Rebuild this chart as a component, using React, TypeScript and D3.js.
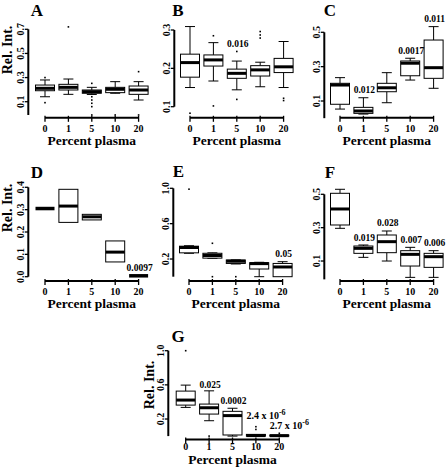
import React from "react";
import * as d3 from "d3";

const categories = ["0", "1", "5", "10", "20"];

// [whiskerLow, q1, median, q3, whiskerHigh] per category
const boxA = [[0.141, 0.191, 0.211, 0.238, 0.28], [0.161, 0.197, 0.219, 0.244, 0.288], [0.16, 0.17, 0.183, 0.197, 0.219], [0.17, 0.175, 0.203, 0.219, 0.266], [0.114, 0.161, 0.197, 0.23, 0.266]];
const outA = [[0.092, 0.3], [0.72], [0.252, 0.141, 0.114, 0.087, 0.059, -0.01], [-0.01], [0.349, -0.01]];
const annA = ["", "", "", "", ""];
const ticksA = [0.1, 0.3, 0.5, 0.7];

const boxB = [[0.15, 0.177, 0.215, 0.237, 0.309], [0.167, 0.206, 0.222, 0.235, 0.267], [0.144, 0.174, 0.187, 0.198, 0.219], [0.152, 0.18, 0.196, 0.207, 0.216], [0.15, 0.189, 0.204, 0.226, 0.27]];
const outB = [[0.083], [0.285, 0.102], [0.244, 0.119], [0.296, 0.287, 0.279], [0.122, 0.116]];
const annB = ["", "", "0.016", "", ""];
const ticksB = [0.1, 0.2, 0.3];

const boxC = [[0.053, 0.081, 0.193, 0.203, 0.236], [0.024, 0.028, 0.042, 0.063, 0.119], [0.09, 0.154, 0.177, 0.203, 0.265], [0.222, 0.247, 0.32, 0.333, 0.349], [0.174, 0.232, 0.294, 0.455, 0.533]];
const outC = [[], [], [], [], []];
const annC = ["", "0.012", "", "0.0017", "0.011"];
const ticksC = [0.1, 0.3, 0.5];

const boxD = [[0.305, 0.305, 0.305, 0.305, 0.305], [0.243, 0.243, 0.316, 0.391, 0.391], [0.254, 0.254, 0.268, 0.279, 0.279], [0.066, 0.066, 0.11, 0.16, 0.16], [0.004, 0.004, 0.004, 0.004, 0.004]];
const outD = [[], [], [], [], []];
const annD = ["", "", "", "", "0.0097"];
const ticksD = [0.0, 0.1, 0.2, 0.3, 0.4];

const boxE = [[0.265, 0.27, 0.33, 0.345, 0.35], [0.208, 0.21, 0.24, 0.265, 0.27], [0.144, 0.15, 0.175, 0.189, 0.19], [0.0, 0.087, 0.148, 0.158, 0.163], [0.0, 0.0, 0.11, 0.15, 0.17]];
const outE = [[0.99], [0.378, 0.0], [0.0], [], []];
const annE = ["", "", "", "", "0.05"];
const ticksE = [0.2, 0.6, 1.0];

const boxF = [[0.296, 0.316, 0.412, 0.506, 0.53], [0.122, 0.146, 0.176, 0.19, 0.196], [0.1, 0.15, 0.216, 0.256, 0.28], [0.002, 0.07, 0.14, 0.162, 0.182], [0.002, 0.062, 0.126, 0.146, 0.162]];
const outF = [[], [], [], [], []];
const annF = ["", "0.019", "0.028", "0.007", "0.006"];
const ticksF = [0.1, 0.3, 0.5];

const boxG = [[0.336, 0.363, 0.422, 0.527, 0.597], [0.18, 0.258, 0.332, 0.375, 0.53], [0.0, 0.013, 0.24, 0.29, 0.326], [0.0, 0.0, 0.006, 0.02, 0.02], [0.0, 0.0, 0.005, 0.012, 0.012]];
const outG = [[1.0], [0.0], [], [0.11, 0.078], [0.033]];
const annG = ["", "0.025", "0.0002", "2.4 x 10^-6", "2.7 x 10^-6"];
const ticksG = [0.2, 0.6, 1.0];

const FONT = "'Liberation Serif', 'Times New Roman', Times, serif";

type Layout = {
  id: string;
  box: number[][];
  out: number[][];
  ann: string[];
  ticks: number[];
  dom: [number, number];
  rng: [number, number];
  axis: [number, number];
  axisX: number;
  x0: number;
  xAxisY: number;
  xLabY: number;
  xTitleY: number;
  letter: [number, number];
  ylab: [number, number] | null;
  annGap: number[];
};

const STEP = 23.4;
const BOXW = 19;
const CAPW = 10;

const gap5 = [4.5, 4.5, 4.5, 4.5, 4.5];

const panels: Layout[] = [
  { id: "A", box: boxA, out: outA, ann: annA, ticks: ticksA, dom: [0, 0.7], rng: [113.77, 29.3], axis: [-0.01, 0.7], axisX: 28.3, x0: 45, xAxisY: 117.8, xLabY: 131.5, xTitleY: 144.5, letter: [37, 15.5], ylab: [11.5, 50], annGap: gap5 },
  { id: "B", box: boxB, out: outB, ann: annB, ticks: ticksB, dom: [0.1, 0.3], rng: [106.7, 30], axis: [0.1, 0.3], axisX: 174.3, x0: 190, xAxisY: 117.8, xLabY: 131.5, xTitleY: 144.5, letter: [178, 15.5], ylab: null, annGap: gap5 },
  { id: "C", box: boxC, out: outC, ann: annC, ticks: ticksC, dom: [0, 0.5], rng: [118.18, 32.3], axis: [0, 0.5], axisX: 324.3, x0: 340, xAxisY: 117.8, xLabY: 131.5, xTitleY: 144.5, letter: [330, 15.5], ylab: null, annGap: gap5 },
  { id: "D", box: boxD, out: outD, ann: annD, ticks: ticksD, dom: [0, 0.4], rng: [276.7, 187.3], axis: [0, 0.4], axisX: 28.3, x0: 45, xAxisY: 281, xLabY: 295, xTitleY: 307.5, letter: [37, 177.5], ylab: [11.5, 208], annGap: gap5 },
  { id: "E", box: boxE, out: outE, ann: annE, ticks: ticksE, dom: [0, 1], rng: [276.7, 188.3], axis: [0, 1], axisX: 173.3, x0: 189, xAxisY: 281, xLabY: 295, xTitleY: 307.5, letter: [178.5, 177], ylab: null, annGap: gap5 },
  { id: "F", box: boxF, out: outF, ann: annF, ticks: ticksF, dom: [0, 0.5], rng: [277.7, 194.3], axis: [-0.01, 0.5], axisX: 324.3, x0: 340, xAxisY: 281, xLabY: 295, xTitleY: 307.5, letter: [330, 177.5], ylab: null, annGap: gap5 },
  { id: "G", box: boxG, out: outG, ann: annG, ticks: ticksG, dom: [0, 1], rng: [436.1, 350.7], axis: [0, 1], axisX: 168.3, x0: 185.7, xAxisY: 439.5, xLabY: 450, xTitleY: 463.5, letter: [178, 342], ylab: [153.5, 385], annGap: [4.5, 2.5, 4, 8, 4] },
];

function Annotation({ text, x, y, long }: { text: string; x: number; y: number; long: boolean }) {
  if (!text) return null;
  if (text.includes("^")) {
    const [base, sup] = text.split("^");
    return (
      <text x={x} y={y} fontSize={10} fontWeight="bold" fontFamily={FONT} textAnchor="start">
        {base}
        <tspan dy={-4} fontSize={8}>{sup}</tspan>
      </text>
    );
  }
  return (
    <text x={x} y={y} fontSize={9.5} fontWeight="bold" fontFamily={FONT} textAnchor={long ? "start" : "middle"}>
      {text}
    </text>
  );
}

function Panel({ p }: { p: Layout }) {
  const y = d3.scaleLinear().domain(p.dom).range(p.rng);
  const x = d3.scalePoint<string>().domain(categories).range([p.x0, p.x0 + 4 * STEP]).padding(0);
  const fmt = d3.format(".1f");
  const xs = categories.map((c) => x(c) as number);
  return (
    <g>
      <text x={p.letter[0]} y={p.letter[1]} fontSize={17} fontWeight="bold" fontFamily={FONT} textAnchor="middle">{p.id}</text>
      <line x1={p.axisX} x2={p.axisX} y1={y(p.axis[0])} y2={y(p.axis[1])} stroke="#000" strokeWidth={2} />
      {p.ticks.map((t) => (
        <g key={t}>
          <line x1={p.axisX - 3.5} x2={p.axisX} y1={y(t)} y2={y(t)} stroke="#000" strokeWidth={1.3} />
          <text transform={`translate(${p.axisX - 4.8},${y(t)}) rotate(-90)`} fontSize={10} fontWeight="bold" fontFamily={FONT} textAnchor="middle">{fmt(t)}</text>
        </g>
      ))}
      {p.ylab && (
        <text transform={`translate(${p.ylab[0]},${p.ylab[1]}) rotate(-90)`} fontSize={14} fontWeight="bold" fontFamily={FONT} textAnchor="middle">Rel.  Int.</text>
      )}
      <line x1={xs[0]} x2={xs[4]} y1={p.xAxisY} y2={p.xAxisY} stroke="#000" strokeWidth={2} />
      {categories.map((c, i) => (
        <g key={c}>
          <line x1={xs[i]} x2={xs[i]} y1={p.xAxisY - 2} y2={p.xAxisY + 4} stroke="#000" strokeWidth={1.3} />
          <text x={xs[i]} y={p.xLabY} fontSize={10} fontWeight="bold" fontFamily={FONT} textAnchor="middle">{c}</text>
        </g>
      ))}
      <text x={(xs[0] + xs[4]) / 2} y={p.xTitleY} fontSize={13.5} fontWeight="bold" fontFamily={FONT} textAnchor="middle">Percent plasma</text>
      {p.box.map((b, i) => {
        const cx = xs[i];
        const [lo, q1, med, q3, hi] = b;
        const flat = q1 === q3;
        return (
          <g key={i}>
            {hi > q3 && <line x1={cx} x2={cx} y1={y(q3)} y2={y(hi)} stroke="#000" strokeWidth={1} />}
            {hi > q3 && <line x1={cx - CAPW / 2} x2={cx + CAPW / 2} y1={y(hi)} y2={y(hi)} stroke="#000" strokeWidth={1} />}
            {lo < q1 && <line x1={cx} x2={cx} y1={y(q1)} y2={y(lo)} stroke="#000" strokeWidth={1} />}
            {lo < q1 && <line x1={cx - CAPW / 2} x2={cx + CAPW / 2} y1={y(lo)} y2={y(lo)} stroke="#000" strokeWidth={1} />}
            <rect x={cx - BOXW / 2} y={y(q3)} width={BOXW} height={Math.max(0, y(q1) - y(q3))} fill="#fff" stroke="#000" strokeWidth={1} />
            <line x1={cx - BOXW / 2} x2={cx + BOXW / 2} y1={y(med)} y2={y(med)} stroke="#000" strokeWidth={flat ? 3.5 : 3} />
            {p.out[i].map((o, k) => (
              <rect key={k} x={cx - 0.8} y={y(o) - 0.8} width={1.6} height={1.6} fill="#000" />
            ))}
          </g>
        );
      })}
      {p.ann.map((a, i) => {
        if (!a) return null;
        const b = p.box[i];
        const top = Math.max(b[4], ...p.out[i].filter((o) => o > b[4]), b[3]);
        const long = a.includes("^");
        const ax = long ? xs[i] - BOXW / 2 : xs[i] + 1;
        return <Annotation key={i} text={a} x={ax} y={y(top) - p.annGap[i]} long={long} />;
      })}
    </g>
  );
}

export default function App() {
  return (
    <svg width={448} height={473} style={{ position: "absolute", left: 0, top: 0, background: "#fff" }}>
      <rect x={0} y={0} width={448} height={473} fill="#fff" />
      {panels.map((p) => (
        <Panel key={p.id} p={p} />
      ))}
    </svg>
  );
}
